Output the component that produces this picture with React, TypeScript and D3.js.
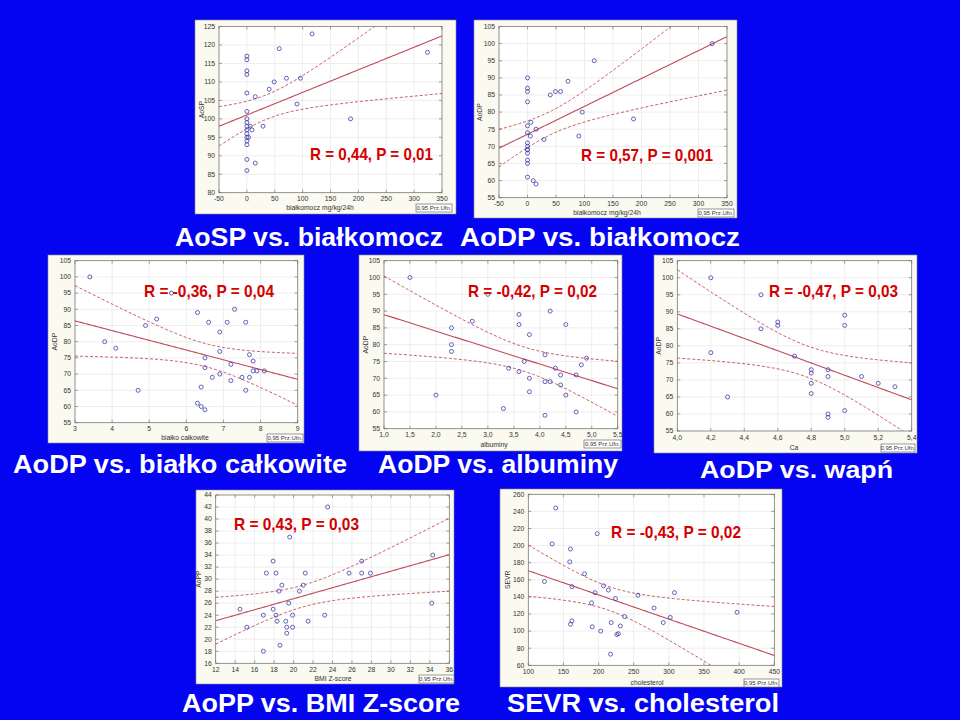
import * as d3 from 'd3';

const pl = d3.formatLocale({ decimal: ',', thousands: '\u00a0', grouping: [3], currency: ['', ''], minus: '-' });

// AoSP vs białkomocz
const bialkomoczA = [0, 0, 0, 0, 0, 0, 0, 0, 0, 0, 0, 0, 0, 0, 0, 0, 3, 6, 9, 15, 15, 29, 40, 49, 58, 71, 90, 96, 117, 186, 324];
const aospVals = [117, 116, 113, 112, 107, 102, 100, 99, 98, 97, 96, 95, 94, 93, 89, 86, 95, 98, 97, 106, 88, 98, 108, 110, 119, 111, 104, 111, 123, 100, 118];

// AoDP vs białkomocz
const bialkomoczB = [0, 0, 0, 0, 0, 0, 0, 0, 0, 0, 0, 0, 0, 0, 6, 5, 15, 10, 15, 29, 40, 49, 58, 71, 90, 96, 117, 186, 324];
const aodpBialkomocz = [90, 87, 86, 83, 76, 74, 71, 70, 69, 68, 66, 65, 61, 69, 77, 73, 75, 60, 59, 72, 85, 86, 86, 89, 73, 80, 95, 78, 100];

// AoDP vs białko całkowite
const bialkoCalk = [3.4, 3.8, 4.1, 4.7, 4.9, 5.2, 5.6, 6.3, 6.3, 6.4, 6.5, 6.4, 6.5, 6.5, 6.6, 6.7, 6.9, 6.9, 6.9, 7.1, 7.2, 7.2, 7.3, 7.5, 7.6, 7.6, 7.7, 7.7, 7.8, 7.8, 7.9, 8.1];
const aodpBialko = [100, 80, 78, 65, 85, 87, 95, 89, 61, 60, 59, 66, 75, 72, 86, 69, 83, 77, 70, 86, 73, 68, 90, 69, 86, 65, 76, 69, 74, 71, 71, 71];

// AoDP vs albuminy
const albuminy = [1.5, 2.0, 2.3, 2.3, 2.3, 2.7, 3.0, 3.3, 3.4, 3.6, 3.6, 3.6, 3.7, 3.8, 3.8, 3.8, 4.1, 4.1, 4.1, 4.2, 4.2, 4.3, 4.4, 4.4, 4.5, 4.5, 4.7, 4.7, 4.8, 4.9];
const aodpAlbuminy = [100, 65, 85, 80, 78, 87, 95, 61, 73, 89, 86, 72, 75, 83, 70, 66, 77, 69, 59, 90, 69, 73, 71, 68, 86, 65, 71, 60, 74, 76];

// AoDP vs wapń (Ca)
const wapn = [4.2, 4.2, 4.3, 4.5, 4.5, 4.6, 4.6, 4.7, 4.8, 4.8, 4.8, 4.8, 4.9, 4.9, 4.9, 4.9, 5.0, 5.0, 5.0, 5.1, 5.2, 5.3];
const aodpWapn = [100, 78, 65, 95, 85, 87, 86, 77, 73, 72, 69, 66, 73, 71, 60, 59, 89, 86, 61, 71, 69, 68];

// AoPP vs BMI Z-score
const bmiZ = [14.5, 15.2, 16.9, 16.9, 17.2, 17.9, 17.9, 18.2, 18.2, 18.3, 18.5, 18.6, 18.8, 19.2, 19.3, 19.3, 19.5, 19.6, 19.9, 19.9, 20.6, 21.0, 21.2, 21.5, 23.2, 23.5, 25.7, 27.0, 27.0, 27.9, 34.3, 34.2];
const aoppVals = [25, 22, 24, 18, 31, 33, 25, 31, 24, 23, 28, 19, 29, 23, 22, 21, 26, 37, 24, 22, 28, 29, 31, 23, 24, 42, 31, 33, 31, 31, 34, 26];

// SEVR vs cholesterol
const cholesterol = [123, 134, 139, 159, 160, 160, 162, 162, 180, 190, 191, 195, 198, 203, 207, 214, 217, 218, 224, 226, 228, 231, 237, 256, 279, 292, 302, 308, 397];
const sevrVals = [158, 202, 244, 181, 196, 108, 112, 152, 167, 133, 105, 145, 214, 100, 153, 148, 73, 110, 138, 96, 97, 106, 117, 142, 127, 110, 116, 145, 122];

// tick labels
const bialkomoczTicks = [-50, 0, 50, 100, 150, 200, 250, 300, 350];
const aospTicks = [80, 85, 90, 95, 100, 105, 110, 115, 120, 125];
const aodpTicks = [55, 60, 65, 70, 75, 80, 85, 90, 95, 100, 105];
const bialkoTicks = [3, 4, 5, 6, 7, 8, 9];
const albuminyTicks = [1.0, 1.5, 2.0, 2.5, 3.0, 3.5, 4.0, 4.5, 5.0, 5.5];
const wapnTicks = [4.0, 4.2, 4.4, 4.6, 4.8, 5.0, 5.2, 5.4];
const bmiTicks = [12, 14, 16, 18, 20, 22, 24, 26, 28, 30, 32, 34, 36];
const aoppTicks = [16, 18, 20, 22, 24, 26, 28, 30, 32, 34, 36, 38, 40, 42, 44];
const cholTicks = [100, 150, 200, 250, 300, 350, 400, 450];
const sevrTicks = [60, 80, 100, 120, 140, 160, 180, 200, 220, 240, 260];

type Panel = {
  xs: number[]; ys: number[]; xTicks: number[]; yTicks: number[];
  dec: number; xLabel: string; yLabel: string; r: string;
  box: [number, number, number, number];
  plot: [number, number, number, number];
  rPos: [number, number, number];
  xl: [number, number]; ylX: number;
  ci: [number, number, number, number];
};

const panels: Panel[] = [
  { xs: bialkomoczA, ys: aospVals, xTicks: bialkomoczTicks, yTicks: aospTicks, dec: 0,
    xLabel: 'białkomocz mg/kg/24h', yLabel: 'AoSP', r: 'R = 0,44, P = 0,01',
    box: [195, 20, 261, 194], plot: [219, 442, 26.5, 192.7], rPos: [310, 160, 123],
    xl: [320, 210], ylX: 204, ci: [416, 204, 36, 8] },
  { xs: bialkomoczB, ys: aodpBialkomocz, xTicks: bialkomoczTicks, yTicks: aodpTicks, dec: 0,
    xLabel: 'białkomocz mg/kg/24h', yLabel: 'AoDP', r: 'R = 0,57, P = 0,001',
    box: [474, 20, 263, 198], plot: [499, 727, 26.5, 197.7], rPos: [581, 161, 132],
    xl: [607, 214.5], ylX: 482, ci: [698, 209, 36, 8] },
  { xs: bialkoCalk, ys: aodpBialko, xTicks: bialkoTicks, yTicks: aodpTicks, dec: 0,
    xLabel: 'białko całkowite', yLabel: 'AoDP', r: 'R = -0,36, P = 0,04',
    box: [48, 255, 256, 188], plot: [75, 297.7, 260.7, 422.7], rPos: [144, 297, 130],
    xl: [185, 439.5], ylX: 57, ci: [267, 434, 36, 8] },
  { xs: albuminy, ys: aodpAlbuminy, xTicks: albuminyTicks, yTicks: aodpTicks, dec: 1,
    xLabel: 'albuminy', yLabel: 'AoDP', r: 'R = -0,42, P = 0,02',
    box: [359, 255, 263, 196], plot: [384, 617.7, 260.7, 428.7], rPos: [468, 297, 129],
    xl: [494, 447], ylX: 368, ci: [584, 440, 37, 8] },
  { xs: wapn, ys: aodpWapn, xTicks: wapnTicks, yTicks: aodpTicks, dec: 1,
    xLabel: 'Ca', yLabel: 'AoDP', r: 'R = -0,47, P = 0,03',
    box: [654, 255, 263, 198], plot: [677.3, 911.7, 260.7, 431], rPos: [769, 297, 129],
    xl: [794, 449.5], ylX: 661, ci: [881, 444, 34, 8] },
  { xs: bmiZ, ys: aoppVals, xTicks: bmiTicks, yTicks: aoppTicks, dec: 0,
    xLabel: 'BMI Z-score', yLabel: 'AoPP', r: 'R = 0,43, P = 0,03',
    box: [196, 490, 258, 194], plot: [215.7, 449.3, 495, 663.3], rPos: [234, 530, 125],
    xl: [333, 680.5], ylX: 201, ci: [419, 675, 35, 8] },
  { xs: cholesterol, ys: sevrVals, xTicks: cholTicks, yTicks: sevrTicks, dec: 0,
    xLabel: 'cholesterol', yLabel: 'SEVR', r: 'R = -0,43, P = 0,02',
    box: [500, 489, 282, 198], plot: [528.3, 774.3, 494.3, 665.3], rPos: [611, 538, 130],
    xl: [647, 684.5], ylX: 510, ci: [744, 679, 35, 8] },
];

const captions: { t: string; x: number; y: number; w: number; fs: number }[] = [
  { t: 'AoSP vs. białkomocz', x: 175, y: 246, w: 268, fs: 26 },
  { t: 'AoDP vs. białkomocz', x: 460, y: 246, w: 280, fs: 26 },
  { t: 'AoDP vs. białko całkowite', x: 13, y: 473, w: 334, fs: 25 },
  { t: 'AoDP vs. albuminy', x: 378, y: 473, w: 240, fs: 25 },
  { t: 'AoDP vs. wapń', x: 700, y: 478, w: 193, fs: 24 },
  { t: 'AoPP vs. BMI Z-score', x: 182, y: 712, w: 278, fs: 26 },
  { t: 'SEVR vs. cholesterol', x: 507, y: 712, w: 272, fs: 26 },
];

// approximate two-sided 95% t quantile
function tq(df: number) {
  const z = 1.959964;
  return z + (z ** 3 + z) / (4 * df) + (5 * z ** 5 + 16 * z ** 3 + 3 * z) / (96 * df * df);
}

function regress(xs: number[], ys: number[]) {
  const n = xs.length;
  const mx = d3.mean(xs)!, my = d3.mean(ys)!;
  const sxx = d3.sum(xs, x => (x - mx) ** 2);
  const sxy = d3.sum(xs, (x, i) => (x - mx) * (ys[i] - my));
  const b = sxy / sxx, a = my - b * mx;
  const sse = d3.sum(xs, (x, i) => (ys[i] - a - b * x) ** 2);
  const s = Math.sqrt(sse / (n - 2));
  const t = tq(n - 2);
  return { f: (x: number) => a + b * x, h: (x: number) => t * s * Math.sqrt(1 / n + (x - mx) ** 2 / sxx) };
}

const FONT = '"Liberation Sans", Arial, sans-serif';
const LINE = '#c04a5a';

function Chart({ p, idx }: { p: Panel; idx: number }) {
  const [x0, x1, y0, y1] = p.plot;
  const xd = d3.extent(p.xTicks) as [number, number];
  const yd = d3.extent(p.yTicks) as [number, number];
  const x = d3.scaleLinear().domain(xd).range([x0, x1]);
  const y = d3.scaleLinear().domain(yd).range([y1, y0]);
  const fx = pl.format(p.dec ? ',.1f' : 'd');
  const fy = pl.format('d');
  const reg = regress(p.xs, p.ys);
  const sx = d3.range(0, 101).map(i => xd[0] + (xd[1] - xd[0]) * i / 100);
  const ln = (fn: (v: number) => number) => d3.line<number>().x(v => x(v)).y(v => y(fn(v)))(sx) || '';
  const clip = `clip${idx}`;
  const [bx, by, bw, bh] = p.box;
  const tk = 3;
  return (
    <g fontFamily={FONT}>
      <rect x={bx} y={by} width={bw} height={bh} fill="#fbfaf0" stroke="#8a8a8a" strokeWidth={0.6} />
      <rect x={x0} y={y0} width={x1 - x0} height={y1 - y0} fill="#ffffff" />
      <clipPath id={clip}><rect x={x0} y={y0} width={x1 - x0} height={y1 - y0} /></clipPath>
      {p.xTicks.map(v => <line key={'gx' + v} x1={x(v)} x2={x(v)} y1={y0} y2={y1} stroke="#e2e2e2" strokeWidth={0.6} />)}
      {p.yTicks.map(v => <line key={'gy' + v} x1={x0} x2={x1} y1={y(v)} y2={y(v)} stroke="#e2e2e2" strokeWidth={0.6} />)}
      {p.xTicks.map(v => (
        <g key={'tx' + v}>
          <line x1={x(v)} x2={x(v)} y1={y1} y2={y1 - tk} stroke="#666" strokeWidth={0.6} />
          <line x1={x(v)} x2={x(v)} y1={y0} y2={y0 + tk} stroke="#666" strokeWidth={0.6} />
          <text x={x(v)} y={y1 + 8.5} fontSize={6.8} fill="#333" textAnchor="middle">{fx(v)}</text>
        </g>
      ))}
      {p.yTicks.map(v => (
        <g key={'ty' + v}>
          <line x1={x0} x2={x0 + tk} y1={y(v)} y2={y(v)} stroke="#666" strokeWidth={0.6} />
          <line x1={x1} x2={x1 - tk} y1={y(v)} y2={y(v)} stroke="#666" strokeWidth={0.6} />
          <text x={x0 - 4} y={y(v) + 2.3} fontSize={6.8} fill="#333" textAnchor="end">{fy(v)}</text>
        </g>
      ))}
      <rect x={x0} y={y0} width={x1 - x0} height={y1 - y0} fill="none" stroke="#707070" strokeWidth={0.7} />
      <g clipPath={`url(#${clip})`} fill="none" stroke={LINE}>
        <path d={ln(reg.f)} strokeWidth={1.1} />
        <path d={ln(v => reg.f(v) + reg.h(v))} strokeWidth={0.9} strokeDasharray="3,2" />
        <path d={ln(v => reg.f(v) - reg.h(v))} strokeWidth={0.9} strokeDasharray="3,2" />
      </g>
      {p.xs.map((v, i) => (
        <circle key={'pt' + i} cx={x(v)} cy={y(p.ys[i])} r={2} fill="none" stroke="#3d3da8" strokeWidth={0.8} />
      ))}
      <text x={p.rPos[0]} y={p.rPos[1]} fontSize={17} fontWeight="bold" fill="#d40000"
        textLength={p.rPos[2]} lengthAdjust="spacingAndGlyphs">{p.r}</text>
      <text x={p.xl[0]} y={p.xl[1]} fontSize={6.8} fill="#333" textAnchor="middle">{p.xLabel}</text>
      <text transform={`translate(${p.ylX},${(y0 + y1) / 2}) rotate(-90)`} fontSize={6.8} fill="#333" textAnchor="middle">{p.yLabel}</text>
      <rect x={p.ci[0]} y={p.ci[1]} width={p.ci[2]} height={p.ci[3]} fill="#fff" stroke="#555" strokeWidth={0.6} />
      <text x={p.ci[0] + p.ci[2] / 2} y={p.ci[1] + p.ci[3] - 2} fontSize={6} fill="#333" textAnchor="middle">0,95 Prz.Ufn.</text>
    </g>
  );
}

export default function App() {
  return (
    <svg width={960} height={720} viewBox="0 0 960 720"
      style={{ position: 'absolute', left: 0, top: 0, display: 'block' }}>
      <rect x={0} y={0} width={960} height={720} fill="#0404f2" />
      {panels.map((p, i) => <Chart key={i} p={p} idx={i} />)}
      {captions.map(c => (
        <text key={c.t} x={c.x} y={c.y} fontFamily={FONT} fontWeight="bold" fontSize={c.fs} fill="#ffffff"
          textLength={c.w} lengthAdjust="spacingAndGlyphs">{c.t}</text>
      ))}
    </svg>
  );
}
